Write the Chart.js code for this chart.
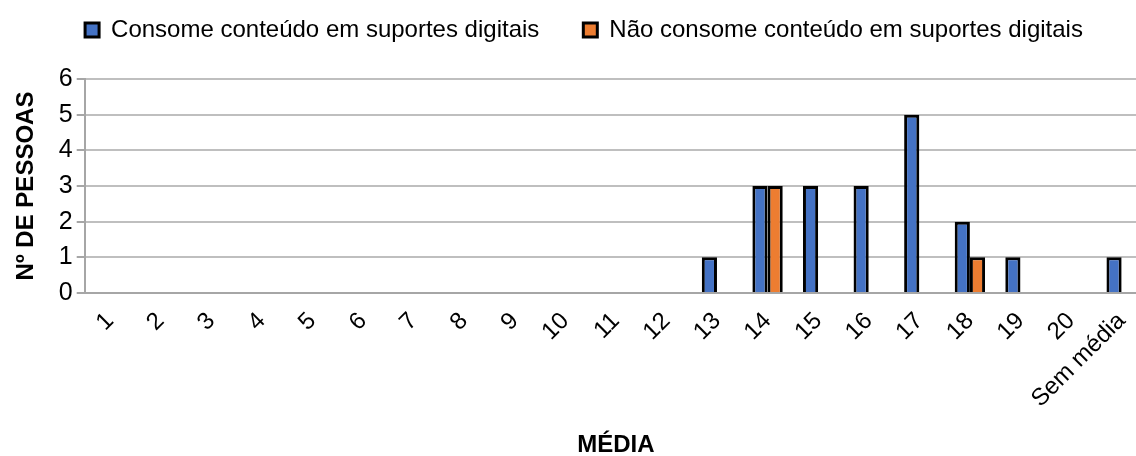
<!DOCTYPE html>
<html>
<head>
<meta charset="utf-8">
<script src="https://cdn.jsdelivr.net/npm/chart.js@4/dist/chart.umd.min.js"></script>
<style>
  html, body { margin: 0; padding: 0; background: #fff; overflow: hidden; }
  #wrap { position: absolute; left: 0; top: 0; width: 1156px; height: 456px; }
</style>
</head>
<body>
<div id="wrap"><canvas id="barChart"></canvas></div>
<script>
// notas médias (categorias do eixo X)
var medias = ["1", "2", "3", "4", "5", "6", "7", "8", "9", "10", "11", "12",
  "13", "14", "15", "16", "17", "18", "19", "20", "Sem média"];
// nº de pessoas por média
var consome = [0, 0, 0, 0, 0, 0, 0, 0, 0, 0, 0, 0, 1, 3, 3, 3, 5, 2, 1, 0, 1];
var naoConsome = [0, 0, 0, 0, 0, 0, 0, 0, 0, 0, 0, 0, 0, 3, 0, 0, 0, 1, 0, 0, 0];
var yTicks = [0, 1, 2, 3, 4, 5, 6];

var fontName = "'Liberation Sans Narrow', 'Liberation Sans', sans-serif";
Chart.defaults.font.family = fontName;
Chart.defaults.color = "#000";

// altura fixa da legenda (espaço por baixo dela)
var legendGap = {
  id: 'legendGap',
  beforeInit: function(chart) {
    var fitOrig = chart.legend.fit;
    chart.legend.fit = function() {
      fitOrig.bind(chart.legend)();
      this.height = 105;
    };
  }
};

var ctx = document.getElementById("barChart");
var myChart = new Chart(ctx, {
  type: 'bar',
  data: {
    labels: medias,
    datasets: [
      {
        label: "Consome conteúdo em suportes digitais",
        data: consome,
        backgroundColor: "#4472C4",
        borderColor: "#000",
        borderWidth: 3
      },
      {
        label: "Não consome conteúdo em suportes digitais",
        data: naoConsome,
        backgroundColor: "#ED7D31",
        borderColor: "#000",
        borderWidth: 3
      }
    ]
  },
  options: {
    responsive: true,
    maintainAspectRatio: false,
    animation: false,
    datasets: {
      bar: { categoryPercentage: 0.6, barPercentage: 1.0 }
    },
    layout: { padding: { top: -26, right: 0, left: 12, bottom: -4 } },
    plugins: {
      tooltip: { enabled: false },
      legend: {
        position: 'top',
        labels: {
          boxWidth: 14,
          boxHeight: 14,
          padding: 44,
          font: { size: 24 },
          color: "#000"
        }
      }
    },
    scales: {
      x: {
        grid: { display: false, drawTicks: false },
        border: { display: true, color: "#a6a6a6", width: 2 },
        ticks: {
          minRotation: 45,
          maxRotation: 45,
          padding: 14,
          autoSkip: false,
          font: { size: 24 },
          color: "#000"
        },
        title: {
          display: true,
          text: "MÉDIA",
          font: { size: 24, weight: 'bold' },
          color: "#000",
          padding: { top: 4, bottom: 0 }
        }
      },
      y: {
        min: 0,
        max: 6,
        afterBuildTicks: function(axis) {
          axis.ticks = yTicks.map(function(v) { return { value: v }; });
        },
        grid: {
          color: "#bfbfbf",
          lineWidth: 2,
          drawTicks: true,
          tickLength: 8,
          tickColor: "#a6a6a6"
        },
        border: { display: true, color: "#a6a6a6", width: 2 },
        ticks: {
          padding: 4,
          font: { size: 25 },
          color: "#000"
        },
        title: {
          display: true,
          text: "Nº DE PESSOAS",
          font: { size: 24, weight: 'bold' },
          color: "#000",
          padding: { top: 0, bottom: 14 }
        }
      }
    }
  },
  plugins: [legendGap]
});
</script>
</body>
</html>
